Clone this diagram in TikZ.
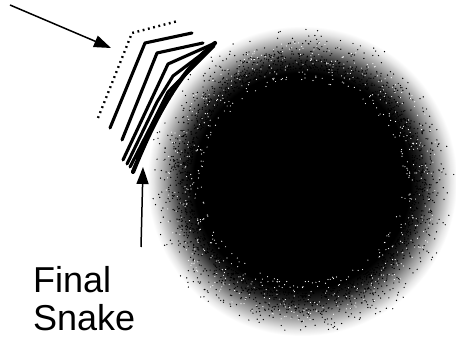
\documentclass[tikz,border=0pt]{standalone}
\usepackage{fontspec}
\setmainfont{Liberation Sans}
\usetikzlibrary{arrows.meta,calc}
\pgfdeclareradialshading{blobshade}{\pgfpoint{0bp}{0bp}}{color(0bp)=(black); color(17.5bp)=(black); color(19.5bp)=(black!85); color(22bp)=(black!40); color(24bp)=(black!10); color(25bp)=(white); color(50bp)=(white)}
\tikzset{
  snakeline/.style={line width=3.1pt, line cap=round, line join=round},
  finalsnake/.style={line width=4.2pt, line cap=round, line join=round},
  dotline/.style={line width=2.4pt, dash pattern=on 1.8pt off 3.6pt, line join=round},
  pointer/.style={line width=1.5pt, -{Triangle[length=17pt,width=12pt]}},
  label/.style={font=\fontsize{36}{38}\selectfont, align=left, anchor=north west, inner sep=0pt}
}
\begin{document}
\begin{tikzpicture}[x=1pt,y=-1pt]
\useasboundingbox[fill=white] (0,0) rectangle (456,342);
% blob
\coordinate (bc) at (302,181);
\shade[shading=blobshade] (bc) circle (155);
\pgfmathsetseed{7}
\foreach \i in {1,...,2200}{
  \pgfmathsetmacro\ang{360*rnd}
  \pgfmathsetmacro\rad{112+46*rnd*rnd}
  \fill[black] ($(bc)+(\ang:\rad)$) circle (0.7);
}
\foreach \i in {1,...,700}{
  \pgfmathsetmacro\ang{360*rnd}
  \pgfmathsetmacro\rad{100+40*rnd}
  \fill[white] ($(bc)+(\ang:\rad)$) circle (0.6);
}
% contours
\draw[dotline] (98,118) -- (132,33) -- (178,21);
\draw[snakeline] (110,128) -- (145,43) -- (192,33);
\draw[snakeline] (122,140) -- (157,53) -- (203,43);
\draw[snakeline] (123,160) -- (168,64) -- (213,44);
\draw[snakeline] (127,164) -- (157,102) -- (173,76) -- (214,45);
\draw[snakeline] (130,167) -- (150,128) -- (168,92) -- (214,45);
\draw[snakeline] (136,158) -- (156,118) -- (178,82) -- (214,46);
\draw[finalsnake] (133,172) .. controls (150,130) and (175,75) .. (215,43);
% arrows
\coordinate (a1s) at (10,5);
\coordinate (a1e) at (111,48);
\draw[pointer] (a1s) -- (a1e);
\coordinate (a2s) at (141,247);
\coordinate (a2e) at (143,167);
\draw[pointer] (a2s) -- (a2e);
\node[label] (lbl) at (33,266) {Final\\Snake};
\end{tikzpicture}
\end{document}
